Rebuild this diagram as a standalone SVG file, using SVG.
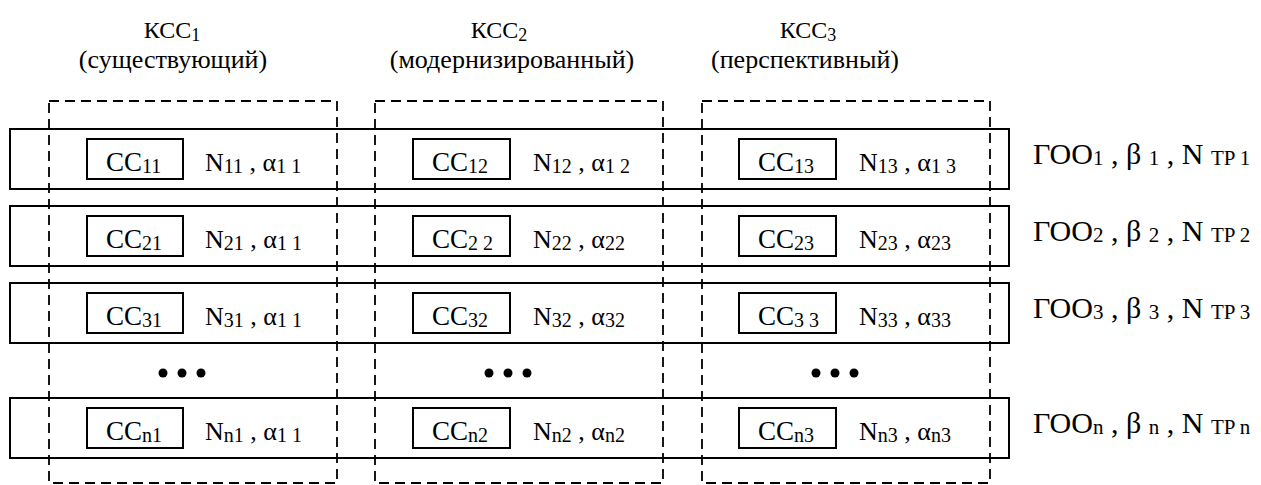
<svg xmlns="http://www.w3.org/2000/svg" width="1261" height="485" viewBox="0 0 1261 485" font-family="'Liberation Serif', 'Times New Roman', serif">
<style>
text{font-family:'Liberation Serif','Times New Roman',serif;fill:#000}
.h{font-size:24px}
.h2{font-size:26px}
.hs{font-size:18px}
.cc{font-size:27px}
.s{font-size:20px}
.nv{font-size:26px}
.g{font-size:30px}
.gs{font-size:21px}
.row{fill:none;stroke:#000;stroke-width:2}
.box{fill:none;stroke:#000;stroke-width:2}
.dash{fill:none;stroke:#000;stroke-width:1.8;stroke-dasharray:10,6}
.dot{fill:#000}
</style>
<g id="headers">
<text class="h" x="172" y="38" text-anchor="middle">КСС<tspan class="hs" dy="3">1</tspan></text>
<text class="h2" x="173" y="68" text-anchor="middle">(существующий)</text>
<text class="h" x="499" y="38" text-anchor="middle">КСС<tspan class="hs" dy="3">2</tspan></text>
<text class="h2" x="512" y="68" text-anchor="middle">(модернизированный)</text>
<text class="h" x="808" y="38" text-anchor="middle">КСС<tspan class="hs" dy="3">3</tspan></text>
<text class="h2" x="805" y="68" text-anchor="middle">(перспективный)</text>
</g>
<g id="rows">
<g id="row1">
<rect class="row" x="10" y="129" width="999" height="60"/>
<rect class="box" x="87" y="139" width="96" height="40"/>
<text class="cc" x="106" y="171">CC<tspan class="s" dy="2">11</tspan></text>
<text class="nv" x="205" y="171">N<tspan class="s" dy="2">11</tspan><tspan dy="-2"> , α</tspan><tspan class="s" dy="2">1 1</tspan></text>
<rect class="box" x="413" y="139" width="97" height="40"/>
<text class="cc" x="432" y="171">CC<tspan class="s" dy="2">12</tspan></text>
<text class="nv" x="533" y="171">N<tspan class="s" dy="2">12</tspan><tspan dy="-2"> , α</tspan><tspan class="s" dy="2">1 2</tspan></text>
<rect class="box" x="739" y="139" width="97" height="40"/>
<text class="cc" x="758" y="171">CC<tspan class="s" dy="2">13</tspan></text>
<text class="nv" x="859" y="171">N<tspan class="s" dy="2">13</tspan><tspan dy="-2"> , α</tspan><tspan class="s" dy="2">1 3</tspan></text>
<text class="g" x="1033" y="164">ГОО<tspan class="gs" dy="1">1</tspan><tspan dy="-1"> , β </tspan><tspan class="gs" dy="1">1</tspan><tspan dy="-1"> , N </tspan><tspan class="gs" dy="1">TP 1</tspan></text>
</g>
<g id="row2">
<rect class="row" x="10" y="206" width="999" height="60"/>
<rect class="box" x="87" y="216" width="96" height="40"/>
<text class="cc" x="106" y="248">CC<tspan class="s" dy="2">21</tspan></text>
<text class="nv" x="205" y="248">N<tspan class="s" dy="2">21</tspan><tspan dy="-2"> , α</tspan><tspan class="s" dy="2">1 1</tspan></text>
<rect class="box" x="413" y="216" width="97" height="40"/>
<text class="cc" x="432" y="248">CC<tspan class="s" dy="2">2 2</tspan></text>
<text class="nv" x="533" y="248">N<tspan class="s" dy="2">22</tspan><tspan dy="-2"> , α</tspan><tspan class="s" dy="2">22</tspan></text>
<rect class="box" x="739" y="216" width="97" height="40"/>
<text class="cc" x="758" y="248">CC<tspan class="s" dy="2">23</tspan></text>
<text class="nv" x="859" y="248">N<tspan class="s" dy="2">23</tspan><tspan dy="-2"> , α</tspan><tspan class="s" dy="2">23</tspan></text>
<text class="g" x="1033" y="241">ГОО<tspan class="gs" dy="1">2</tspan><tspan dy="-1"> , β </tspan><tspan class="gs" dy="1">2</tspan><tspan dy="-1"> , N </tspan><tspan class="gs" dy="1">TP 2</tspan></text>
</g>
<g id="row3">
<rect class="row" x="10" y="283" width="999" height="60"/>
<rect class="box" x="87" y="293" width="96" height="40"/>
<text class="cc" x="106" y="325">CC<tspan class="s" dy="2">31</tspan></text>
<text class="nv" x="205" y="325">N<tspan class="s" dy="2">31</tspan><tspan dy="-2"> , α</tspan><tspan class="s" dy="2">1 1</tspan></text>
<rect class="box" x="413" y="293" width="97" height="40"/>
<text class="cc" x="432" y="325">CC<tspan class="s" dy="2">32</tspan></text>
<text class="nv" x="533" y="325">N<tspan class="s" dy="2">32</tspan><tspan dy="-2"> , α</tspan><tspan class="s" dy="2">32</tspan></text>
<rect class="box" x="739" y="293" width="97" height="40"/>
<text class="cc" x="758" y="325">CC<tspan class="s" dy="2">3 3</tspan></text>
<text class="nv" x="859" y="325">N<tspan class="s" dy="2">33</tspan><tspan dy="-2"> , α</tspan><tspan class="s" dy="2">33</tspan></text>
<text class="g" x="1033" y="318">ГОО<tspan class="gs" dy="1">3</tspan><tspan dy="-1"> , β </tspan><tspan class="gs" dy="1">3</tspan><tspan dy="-1"> , N </tspan><tspan class="gs" dy="1">TP 3</tspan></text>
</g>
<g id="dots">
<circle class="dot" cx="163" cy="373" r="4.5"/><circle class="dot" cx="182" cy="373" r="4.5"/><circle class="dot" cx="201" cy="373" r="4.5"/>
<circle class="dot" cx="489" cy="373" r="4.5"/><circle class="dot" cx="508" cy="373" r="4.5"/><circle class="dot" cx="527" cy="373" r="4.5"/>
<circle class="dot" cx="816" cy="373" r="4.5"/><circle class="dot" cx="835" cy="373" r="4.5"/><circle class="dot" cx="854" cy="373" r="4.5"/>
</g>
<g id="rown">
<rect class="row" x="10" y="398" width="999" height="60"/>
<rect class="box" x="87" y="408" width="96" height="40"/>
<text class="cc" x="106" y="440">CC<tspan class="s" dy="2">n1</tspan></text>
<text class="nv" x="205" y="440">N<tspan class="s" dy="2">n1</tspan><tspan dy="-2"> , α</tspan><tspan class="s" dy="2">1 1</tspan></text>
<rect class="box" x="413" y="408" width="97" height="40"/>
<text class="cc" x="432" y="440">CC<tspan class="s" dy="2">n2</tspan></text>
<text class="nv" x="533" y="440">N<tspan class="s" dy="2">n2</tspan><tspan dy="-2"> , α</tspan><tspan class="s" dy="2">n2</tspan></text>
<rect class="box" x="739" y="408" width="97" height="40"/>
<text class="cc" x="758" y="440">CC<tspan class="s" dy="2">n3</tspan></text>
<text class="nv" x="859" y="440">N<tspan class="s" dy="2">n3</tspan><tspan dy="-2"> , α</tspan><tspan class="s" dy="2">n3</tspan></text>
<text class="g" x="1033" y="433">ГОО<tspan class="gs" dy="1">n</tspan><tspan dy="-1"> , β </tspan><tspan class="gs" dy="1">n</tspan><tspan dy="-1"> , N </tspan><tspan class="gs" dy="1">TP n</tspan></text>
</g>
</g>
<g id="columns">
<rect id="col1" class="dash" x="49" y="101" width="288" height="382"/>
<rect id="col2" class="dash" x="375" y="101" width="288" height="382"/>
<rect id="col3" class="dash" x="702" y="101" width="288" height="382"/>
</g>
</svg>
